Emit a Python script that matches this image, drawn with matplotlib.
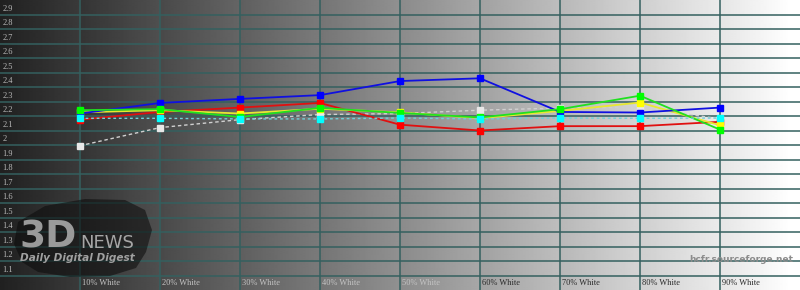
import numpy as np
import matplotlib
matplotlib.use("Agg")
import matplotlib.pyplot as plt
import matplotlib.transforms as mtransforms
from matplotlib.patches import Polygon

# Gamma per grey level, one series per channel
levels = [10, 20, 30, 40, 50, 60, 70, 80, 90]
level_labels = ["10% White", "20% White", "30% White", "40% White", "50% White",
                "60% White", "70% White", "80% White", "90% White"]
gamma_red = [2.175, 2.228, 2.258, 2.29, 2.14, 2.10, 2.13, 2.13, 2.16]
gamma_green = [2.24, 2.247, 2.193, 2.256, 2.221, 2.19, 2.247, 2.34, 2.106]
gamma_blue = [2.217, 2.29, 2.318, 2.344, 2.441, 2.46, 2.228, 2.224, 2.258]
gamma_yellow = [2.225, 2.24, 2.217, 2.25, 2.225, 2.185, 2.235, 2.293, 2.136]
gamma_cyan = [2.184, 2.184, 2.18, 2.18, 2.186, 2.18, 2.186, 2.184, 2.186]
gamma_white = [1.995, 2.12, 2.175, 2.21, 2.217, 2.24, 2.255, 2.26, 2.18]
y_labels = ["1.1", "1.2", "1.3", "1.4", "1.5", "1.6", "1.7", "1.8", "1.9", "2",
            "2.1", "2.2", "2.3", "2.4", "2.5", "2.6", "2.7", "2.8", "2.9"]

fig = plt.figure(figsize=(8, 2.9), dpi=100)
ax = fig.add_axes([0, 0, 1, 1])
ax.set_xlim(0, 100)
ax.set_ylim(1.0, 3.0)
ax.axis("off")

# grey ramp behind the plot, with a faint step at every 10%
W = 800
xs = np.arange(W)
frac = (xs % 80) / 80.0
base = 0.14 + 0.86 * (xs / (W - 1)) ** 1.05
ramp = np.clip(base + 0.025 * (frac - 0.5), 0, 1)
ax.imshow(ramp[np.newaxis, :], cmap="gray", vmin=0, vmax=1, aspect="auto",
          extent=[0, 100, 1.0, 3.0], zorder=0, interpolation="bilinear")

# grid
grid_c = "#34605f"
for lab in y_labels:
    ax.axhline(float(lab), color=grid_c, lw=1.1, zorder=1)
for lv in levels:
    ax.axvline(lv, color=grid_c, lw=1.1, zorder=1)

# axis labels drawn inside the plot
for lab in y_labels:
    ax.text(0.3, float(lab) + 0.041, lab, fontsize=6, family="Liberation Serif",
            color="#b8b8b8", va="center", ha="left", zorder=2)
for i, (lv, lab) in enumerate(zip(levels, level_labels)):
    col = "#c4c4c4" if i < 5 else "#2a2a2a"
    ax.text(lv + 0.2, 1.048, lab, fontsize=6, family="Liberation Serif",
            color=col, va="center", ha="left", zorder=2)

# logo in pixel coordinates
pix = mtransforms.Affine2D().scale(1 / 800, -1 / 290).translate(0, 1) + fig.transFigure
brush = Polygon([(18, 222), (45, 206), (85, 199), (125, 200), (145, 210), (152, 230),
                 (146, 252), (136, 268), (110, 276), (70, 277), (38, 272), (22, 262),
                 (14, 244)], closed=True, transform=pix, facecolor="#0a0a0a",
                edgecolor="none", alpha=0.55, zorder=2)
fig.add_artist(brush)
fig.text(19 / 800, 1 - 247 / 290, "3D", transform=fig.transFigure, fontsize=27,
         fontweight="bold", family="DejaVu Sans", color="#9a9a9a", va="baseline",
         ha="left", zorder=3)
fig.text(80 / 800, 1 - 248 / 290, "NEWS", transform=fig.transFigure, fontsize=13,
         family="DejaVu Sans", color="#a6a6a6", va="baseline", ha="left", zorder=3)
fig.text(20 / 800, 1 - 261 / 290, "Daily Digital Digest", transform=fig.transFigure,
         fontsize=7.6, fontweight="bold", style="italic", family="DejaVu Sans",
         color="#a0a0a0", va="baseline", ha="left", zorder=3)
fig.text(793 / 800, 1 - 260 / 290, "hcfr.sourceforge.net", transform=fig.transFigure,
         fontsize=6.5, fontweight="bold", family="DejaVu Sans", color="#8c8c8c",
         va="center", ha="right", zorder=3)

# series
ms = 4.3
ax.plot(levels, gamma_white, color="#d0d0d0", lw=1.0, ls=(0, (2.5, 2)), marker="s",
        ms=ms, mfc="#e8e8e8", mec="#e8e8e8", zorder=4)
ax.plot(levels, gamma_red, color="#e01010", lw=1.3, marker="s", ms=ms,
        mfc="#ff0000", mec="#ff0000", zorder=5)
ax.plot(levels, gamma_yellow, color="#e8e830", lw=1.3, marker="s", ms=ms,
        mfc="#ffff00", mec="#ffff00", zorder=6)
ax.plot(levels, gamma_blue, color="#1010e0", lw=1.3, marker="s", ms=ms,
        mfc="#0000ff", mec="#0000ff", zorder=7)
ax.plot(levels, gamma_green, color="#20e020", lw=1.3, marker="s", ms=ms,
        mfc="#00ff00", mec="#00ff00", zorder=8)
ax.plot(levels, gamma_cyan, color="#70d0d8", lw=1.0, ls=(0, (2, 2)), marker="s",
        ms=ms, mfc="#00ffff", mec="#00ffff", zorder=9)

fig.savefig("out.png", dpi=100)
